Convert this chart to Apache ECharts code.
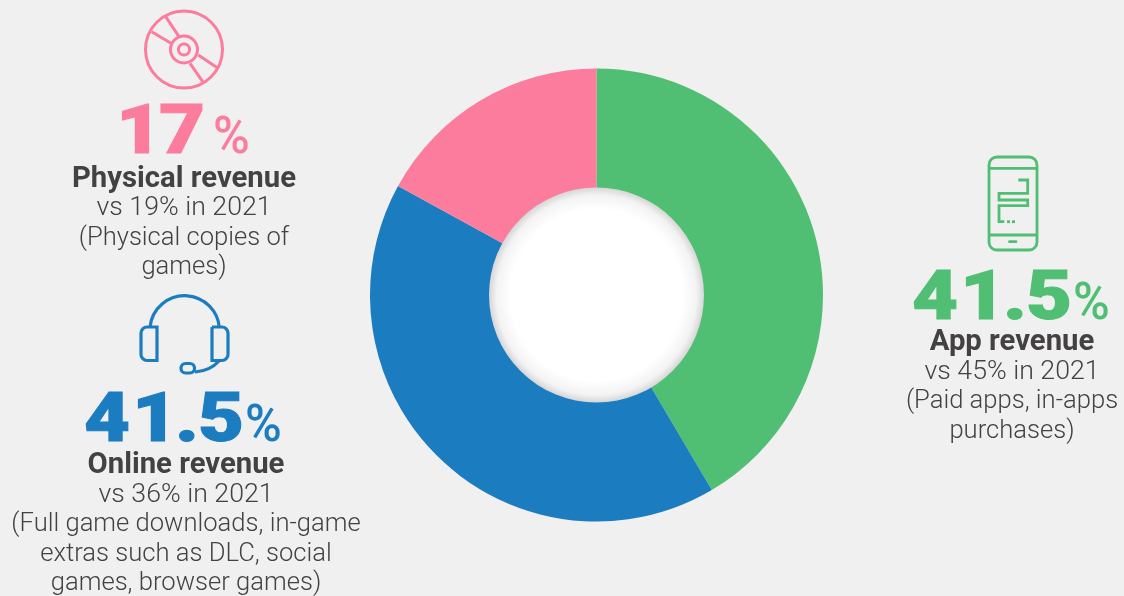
<!DOCTYPE html>
<html>
<head>
<meta charset="utf-8">
<style>
  html, body { margin: 0; padding: 0; background: #f0f0f0; }
  #chart { width: 1124px; height: 596px; }
</style>
<script src="https://cdn.jsdelivr.net/npm/echarts@6/dist/echarts.min.js"></script>
</head>
<body>
<div id="chart"></div>
<script>
// Revenue share by segment, clockwise from twelve o'clock
const segments = ['App revenue', 'Online revenue', 'Physical revenue'];
const shares = [41.5, 41.5, 17];
const colours = ['#50BE73', '#1B7CC0', '#FB7C9C'];
const comparisons = ['vs 45% in 2021', 'vs 36% in 2021', 'vs 19% in 2021'];
const notes = [
  ['(Paid apps, in-apps', 'purchases)'],
  ['(Full game downloads, in-game', 'extras such as DLC, social', 'games, browser games)'],
  ['(Physical copies of', 'games)']
];

// Layout of each text block: big number, percent sign, then the caption lines
const blocks = [
  { numX: 912, numY: 302, pctX: 1073, cx: 1012, titleY: 343, firstLineY: 372 },
  { numX: 84, numY: 424, pctX: 245, cx: 186, titleY: 466, firstLineY: 495 },
  { numX: 116, numY: 136, pctX: 213, cx: 184, titleY: 180, firstLineY: 208.5 }
];

const inkDark = '#444142';
const lineStep = 29.6;

// The big figures are set glyph by glyph so the wide digits sit close together
const glyphAdvance = { '4': 48, '1': 43, '.': 23, '7': 46, '5': 46 };

function bigNumber(value, x, y, colour) {
  const out = [];
  let pen = x;
  String(value).split('').forEach(ch => {
    out.push({
      type: 'text', x: pen, y, scaleX: 1.17, silent: true,
      style: {
        text: ch, font: '900 68px Roboto', fill: colour, stroke: colour, lineWidth: 1,
        align: 'left', verticalAlign: 'middle'
      }
    });
    pen += glyphAdvance[ch];
  });
  return out;
}

function textBlocks() {
  let out = [];
  segments.forEach((name, i) => {
    const b = blocks[i];
    const colour = colours[i];
    out = out.concat(bigNumber(shares[i], b.numX, b.numY, colour));
    out.push({
      type: 'text', x: b.pctX, y: b.numY + 4, scaleX: 0.98, silent: true,
      style: { text: '%', font: '500 51px Roboto', fill: colour, align: 'left', verticalAlign: 'middle' }
    });
    out.push({
      type: 'text', x: b.cx, y: b.titleY, silent: true,
      style: { text: name, font: '700 29.3px Roboto', fill: inkDark, align: 'center', verticalAlign: 'middle' }
    });
    out.push({
      type: 'text', x: b.cx, y: b.firstLineY, silent: true,
      style: { text: comparisons[i], font: '300 26.7px Roboto', fill: inkDark, align: 'center', verticalAlign: 'middle' }
    });
    notes[i].forEach((line, k) => {
      out.push({
        type: 'text', x: b.cx, y: b.firstLineY + (k + 1) * lineStep, silent: true,
        style: { text: line, font: '300 25.6px Roboto', fill: inkDark, align: 'center', verticalAlign: 'middle' }
      });
    });
  });
  return out;
}

// Outline icons above each number
function stroked(colour, width) {
  return { stroke: colour, lineWidth: width, fill: null };
}

function discIcon(c) {
  const s = stroked(c, 3);
  const spokes = [[165.7, 16.7, 179, 36.7], [151.7, 31.7, 171, 43.3], [198.3, 55, 217.3, 67.7], [190, 63.3, 202.7, 81.7]];
  return [
    { type: 'circle', shape: { cx: 184, cy: 49.5, r: 38.5 }, style: s, silent: true },
    { type: 'circle', shape: { cx: 184, cy: 49.5, r: 13.5 }, style: s, silent: true },
    { type: 'circle', shape: { cx: 184, cy: 49.5, r: 5.6 }, style: s, silent: true }
  ].concat(spokes.map(p => ({
    type: 'line', shape: { x1: p[0], y1: p[1], x2: p[2], y2: p[3] }, style: s, silent: true
  })));
}

function headsetIcon(c) {
  const s = stroked(c, 3.2);
  return [
    { type: 'arc', shape: { cx: 184.65, cy: 330.5, r: 34.8, startAngle: Math.PI + 0.08, endAngle: 2 * Math.PI - 0.08, clockwise: true }, style: s, silent: true },
    { type: 'rect', shape: { x: 141, y: 327, width: 16, height: 33.5, r: [6, 0, 0, 6] }, style: s, silent: true },
    { type: 'rect', shape: { x: 212, y: 327, width: 16, height: 33.5, r: [0, 6, 6, 0] }, style: s, silent: true },
    { type: 'rect', shape: { x: 181, y: 363.5, width: 13.5, height: 9.5, r: 4.5 }, style: s, silent: true },
    { type: 'bezierCurve', shape: { x1: 195, y1: 372, cpx1: 210, cpy1: 371, x2: 219, y2: 361 }, style: s, silent: true }
  ];
}

function phoneIcon(c) {
  const s = stroked(c, 2.8);
  const circuit = [[1018.3, 180], [1027.7, 180], [1027.7, 193.3], [999, 193.3], [999, 200], [1027.7, 200], [1027.7, 205.7], [999, 205.7], [999, 221.7], [1004.3, 221.7]];
  return [
    { type: 'rect', shape: { x: 989, y: 157, width: 48, height: 93, r: 8 }, style: s, silent: true },
    { type: 'line', shape: { x1: 989, y1: 168.3, x2: 1037, y2: 168.3 }, style: s, silent: true },
    { type: 'line', shape: { x1: 989, y1: 235, x2: 1037, y2: 235 }, style: s, silent: true },
    { type: 'line', shape: { x1: 1009.5, y1: 241.7, x2: 1016, y2: 241.7 }, style: Object.assign({}, s, { lineCap: 'round' }), silent: true },
    { type: 'polyline', shape: { points: circuit }, style: s, silent: true },
    { type: 'line', shape: { x1: 1007, y1: 221.7, x2: 1010, y2: 221.7 }, style: s, silent: true },
    { type: 'line', shape: { x1: 1012, y1: 221.7, x2: 1015, y2: 221.7 }, style: s, silent: true }
  ];
}

const chart = echarts.init(document.getElementById('chart'), null, { renderer: 'canvas' });
chart.setOption({
  animation: false,
  backgroundColor: '#f0f0f0',
  series: [
    {
      type: 'pie',
      center: [596.5, 295],
      radius: [100, 226.5],
      startAngle: 90,
      clockwise: true,
      silent: true,
      label: { show: false },
      labelLine: { show: false },
      data: segments.map((name, i) => ({ name, value: shares[i], itemStyle: { color: colours[i] } }))
    },
    {
      // White hole with a soft inner shadow round its rim
      type: 'pie',
      center: [596.5, 295],
      radius: [0, 107.5],
      silent: true,
      label: { show: false },
      labelLine: { show: false },
      z: 3,
      data: [{
        value: 1,
        itemStyle: {
          color: {
            type: 'radial', x: 0.5, y: 0.5, r: 0.5,
            colorStops: [
              { offset: 0, color: '#ffffff' },
              { offset: 0.8, color: '#ffffff' },
              { offset: 0.93, color: '#f3f3f3' },
              { offset: 1, color: '#d6d6d6' }
            ]
          }
        }
      }]
    }
  ],
  graphic: {
    elements: textBlocks()
      .concat(discIcon(colours[2]))
      .concat(headsetIcon(colours[1]))
      .concat(phoneIcon(colours[0]))
  }
});
</script>
</body>
</html>
